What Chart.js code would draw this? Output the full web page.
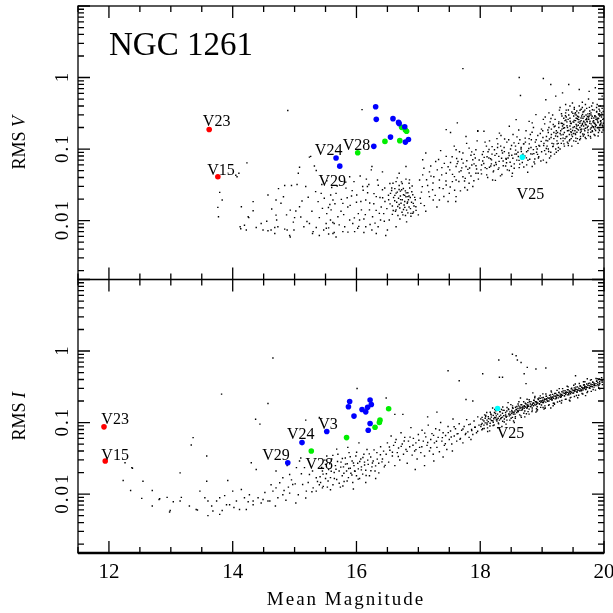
<!DOCTYPE html>
<html>
<head>
<meta charset="utf-8">
<script src="https://cdn.jsdelivr.net/npm/chart.js@4"></script>
<style>
  html, body { margin: 0; padding: 0; background: #fff; }
</style>
</head>
<body>
<canvas id="rmsChart" width="613" height="613"></canvas>
<script>
// tick labels
const xTickLabels = [12, 14, 16, 18, 20];
const yTickLabels = [0.01, 0.1, 1];

// RMS V panel: [mean magnitude, rms]
const vRed = [[13.62, 0.188], [13.76, 0.041]];
const vBlue = [[16.31, 0.39], [16.32, 0.26], [16.59, 0.266], [16.68, 0.236], [16.69, 0.227], [16.78, 0.205],
  [16.55, 0.147], [16.28, 0.109], [16.84, 0.136], [16.79, 0.125], [15.67, 0.0748], [15.73, 0.0577]];
const vGreen = [[16.02, 0.0887], [16.46, 0.128], [16.70, 0.131], [16.73, 0.201], [16.79, 0.185], [16.81, 0.177]];
const vCyan = [[18.68, 0.077]];
const vField = [
  [13.79,0.0248],[13.83,0.0194],[13.76,0.0153],[13.77,0.0113],[14.07,0.041],[14.05,0.043],[14.10,0.046],[14.23,0.064],
  [14.12,0.0082],[14.25,0.0113],[14.33,0.0184],[14.14,0.0156],[14.33,0.0137],[14.26,0.011],[14.57,0.0228],[14.70,0.0194],
  [14.84,0.031],[14.74,0.028],[14.95,0.031],[15.04,0.032],[14.63,0.0145],[14.70,0.0119],[14.93,0.014],[15.02,0.0136],
  [15.08,0.0156],[14.87,0.012],[14.71,0.0102],[14.46,0.0091],[14.38,0.008],[14.19,0.0086],[14.13,0.0077],[14.22,0.0074],
  [14.57,0.0072],[14.62,0.0074],[14.68,0.008],[14.84,0.0076],[14.88,0.0074],[14.99,0.0074],[14.93,0.0059],[15.0,0.011],
  [15.20,0.0097],[15.24,0.0091],[15.30,0.007],[15.35,0.008],[15.40,0.011],[15.47,0.0074],[15.51,0.0091],[15.55,0.0079],
  [15.58,0.0102],[15.62,0.0066],[15.64,0.0091],[15.67,0.0059],[15.38,0.0184],[15.34,0.0254],[15.43,0.024],[15.22,0.0212],
  [15.08,0.0558],[15.06,0.046],[15.24,0.077],[15.35,0.05],[15.18,0.03],[14.73,0.0082],[14.49,0.0074],[14.89,0.345],
  [14.68,0.0066],[14.92,0.0062],[15.29,0.0066],[15.26,0.079],[15.32,0.058],[14.78,0.0175],[15.12,0.0188],[15.28,0.0135],
  [15.45,0.0148],[15.52,0.0125],[15.15,0.0082],[15.40,0.0062],[15.55,0.0065],[14.55,0.0098],[14.98,0.0095],[15.10,0.0112],
  [15.48,0.0205],[15.57,0.0168],[14.82,0.0215],[15.60,0.029],[15.52,0.036],[15.44,0.032],
  [15.89,0.041],[15.83,0.0284],[15.67,0.024],[15.62,0.0194],[15.59,0.0141],[15.78,0.0174],[15.70,0.0113],[15.81,0.0082],
  [15.64,0.0068],[15.94,0.0091],[16.08,0.0141],[16.15,0.0194],[16.10,0.03],[16.24,0.0512],[16.25,0.057],[16.34,0.037],
  [16.42,0.048],[16.42,0.027],[16.32,0.0216],[16.21,0.0141],[16.26,0.0113],[16.37,0.0126],[16.15,0.0082],[16.05,0.0102],
  [15.97,0.0070],[16.32,0.0066],[16.50,0.0074],[15.78,0.007],[15.89,0.0102],[16.09,0.356],[15.75,0.0135],[15.86,0.0155],
  [15.92,0.022],[16.0,0.018],[16.03,0.0125],[16.12,0.0105],[16.18,0.0245],[16.28,0.0172],[16.40,0.0155],[16.45,0.0098],
  [16.02,0.0078],[16.22,0.0088],[16.30,0.0092],[15.96,0.035],[16.06,0.042],[16.20,0.032],[16.38,0.021],[16.46,0.0185],
  [16.12,0.0068],[15.85,0.0208],[16.35,0.0082],[16.16,0.038],[16.44,0.0125],
  [16.52,0.0195],[16.55,0.024],[16.58,0.016],[16.60,0.021],[16.62,0.028],[16.63,0.0135],[16.65,0.018],[16.66,0.025],
  [16.68,0.0205],[16.69,0.031],[16.70,0.015],[16.71,0.022],[16.72,0.0175],[16.73,0.027],[16.74,0.0195],[16.75,0.012],
  [16.76,0.023],[16.77,0.0165],[16.78,0.0185],[16.79,0.026],[16.80,0.0215],[16.81,0.014],[16.82,0.0175],[16.83,0.0245],
  [16.84,0.0195],[16.85,0.0155],[16.87,0.021],[16.88,0.0126],[16.89,0.018],[16.91,0.023],[16.93,0.016],[16.95,0.0195],
  [16.57,0.0285],[16.64,0.035],[16.74,0.033],[16.80,0.038],[16.67,0.0118],[16.76,0.0143],[16.86,0.0285],[16.71,0.0258],
  [16.78,0.0225],[16.69,0.0168],[16.62,0.0225],[16.83,0.0128],[16.92,0.0132],[16.58,0.0122],[16.54,0.033],[16.90,0.0305],
  [16.64,0.0141],[16.59,0.0333],[16.69,0.046],[16.80,0.057],[16.85,0.0333],[16.83,0.0216],[16.64,0.0082],[16.81,0.0096],
  [16.88,0.0115],[16.96,0.0156],[16.53,0.0102],[16.91,0.0126],
  [17.04,0.0174],[17.18,0.0216],[17.34,0.0194],[17.50,0.024],[17.02,0.037],[17.07,0.0435],[17.18,0.048],[17.28,0.067],
  [17.45,0.079],[17.61,0.098],[17.72,0.088],[17.82,0.103],[17.93,0.098],[17.96,0.177],[17.63,0.232],[17.45,0.187],
  [17.07,0.071],[17.12,0.088],[17.09,0.054],[17.34,0.037],[17.45,0.0315],[17.61,0.037],[17.72,0.041],[17.82,0.0333],
  [17.93,0.046],[17.61,0.057],[17.77,0.057],[17.88,0.071],[17.45,0.046],[17.23,0.027],[17.24,0.0194],[17.61,0.0216],
  [17.88,0.03],[17.72,1.33],[17.77,0.15],[17.52,0.17],[17.15,0.031],[17.25,0.041],[17.38,0.055],[17.40,0.028],
  [17.52,0.065],[17.55,0.035],[17.66,0.048],[17.70,0.072],[17.75,0.029],[17.80,0.052],[17.85,0.042],[17.90,0.062],
  [17.97,0.038],[17.12,0.0135],[17.30,0.0155],[17.48,0.0185],[17.68,0.026],[17.85,0.082],[17.58,0.11],[17.36,0.095],
  [17.20,0.058],[17.95,0.13],[17.78,0.12],[17.05,0.025],[17.42,0.063],[17.64,0.067],[17.92,0.075],[17.00,0.012],
  [18.06,0.177],[17.96,0.18],[18.47,0.208],[18.58,0.258],[18.79,0.244],[18.90,0.303],[18.20,0.037],[18.52,0.046],
  [18.84,0.057],[18.31,0.167],[18.84,0.232],[18.02,0.045],[18.04,0.068],[18.05,0.092],[18.08,0.055],[18.10,0.11],
  [18.12,0.04],[18.14,0.075],[18.15,0.13],[18.17,0.058],[18.19,0.085],[18.21,0.048],[18.23,0.098],[18.25,0.065],
  [18.27,0.14],[18.29,0.052],[18.30,0.079],[18.33,0.11],[18.35,0.044],[18.37,0.068],[18.39,0.092],[18.41,0.058],
  [18.43,0.125],[18.45,0.075],[18.47,0.05],[18.49,0.1],[18.51,0.082],[18.53,0.16],[18.55,0.062],[18.57,0.11],
  [18.59,0.07],[18.61,0.09],[18.63,0.055],[18.64,0.135],[18.66,0.1],[18.68,0.065],[18.70,0.118],[18.72,0.08],
  [18.74,0.18],[18.75,0.06],[18.77,0.095],[18.79,0.14],[18.80,0.072],[18.82,0.105],[18.84,0.085],[18.86,0.2],
  [18.87,0.066],[18.89,0.125],[18.91,0.09],[18.93,0.155],[18.94,0.075],[18.96,0.11],[18.98,0.068],[18.99,0.19],
  [18.18,0.062],[18.36,0.088],[18.56,0.085],[18.73,0.125],[18.92,0.1],[18.42,0.072],[18.62,0.12],[18.81,0.16],
  [18.28,0.105],[18.11,0.078],[18.46,0.135],[18.69,0.085],[18.88,0.062],[18.65,0.56],[18.63,1.0],[19.02,0.97],[19.14,0.80],
  [19.02,0.07],[19.03,0.12],[19.01,0.18],[19.04,0.095],[19.02,0.26],[19.06,0.085],[19.07,0.15],[19.05,0.28],
  [19.08,0.11],[19.06,0.49],[19.07,0.065],[19.10,0.10],[19.11,0.20],[19.09,0.13],[19.12,0.075],[19.10,0.17],
  [19.11,0.32],[19.14,0.09],[19.15,0.16],[19.13,0.24],[19.16,0.12],[19.14,0.08],[19.15,0.19],[19.18,0.11],
  [19.19,0.14],[19.17,0.30],[19.20,0.085],[19.18,0.22],[19.19,0.17],[19.22,0.10],[19.23,0.18],[19.21,0.26],
  [19.24,0.13],[19.22,0.55],[19.23,0.09],[19.21,0.21],[19.26,0.12],[19.27,0.20],[19.25,0.15],[19.28,0.35],
  [19.26,0.095],[19.27,0.24],[19.25,0.17],[19.30,0.14],[19.31,0.23],[19.29,0.10],[19.32,0.29],[19.30,0.18],
  [19.31,0.12],[19.29,0.38],[19.33,0.61],[19.34,0.16],[19.33,0.21],[19.35,0.27],[19.34,0.13],[19.32,0.19],
  [19.36,0.11],[19.37,0.25],[19.36,0.17],[19.38,0.32],[19.37,0.14],[19.35,0.22],[19.38,0.42],[19.40,0.15],
  [19.41,0.20],[19.39,0.28],[19.42,0.12],[19.40,0.24],[19.41,0.18],[19.39,0.35],[19.43,0.80],[19.44,0.16],
  [19.43,0.30],[19.45,0.21],[19.44,0.13],[19.42,0.26],[19.45,0.40],[19.46,0.19],[19.47,0.14],[19.46,0.23],
  [19.48,0.33],[19.47,0.17],[19.45,0.27],[19.48,0.11],[19.50,0.20],[19.51,0.29],[19.49,0.15],[19.52,0.36],
  [19.50,0.24],[19.51,0.13],[19.49,0.44],[19.53,0.18],[19.54,0.25],[19.53,0.31],[19.55,0.22],[19.54,0.16],
  [19.52,0.38],[19.55,0.27],[19.56,0.21],[19.57,0.14],[19.56,0.34],[19.58,0.26],[19.57,0.19],[19.55,0.30],
  [19.58,0.12],[19.60,0.68],[19.61,0.23],[19.59,0.28],[19.62,0.17],[19.60,0.40],[19.61,0.20],[19.59,0.32],
  [19.62,0.15],[19.63,0.25],[19.64,0.19],[19.63,0.36],[19.65,0.22],[19.64,0.29],[19.62,0.14],[19.65,0.45],
  [19.66,0.27],[19.67,0.21],[19.66,0.33],[19.68,0.16],[19.67,0.24],[19.65,0.38],[19.68,0.19],[19.70,0.22],
  [19.71,0.30],[19.69,0.18],[19.72,0.26],[19.70,0.42],[19.71,0.14],[19.69,0.35],[19.73,0.24],[19.74,0.31],
  [19.73,0.20],[19.75,0.28],[19.74,0.17],[19.72,0.37],[19.75,0.50],[19.76,0.64],[19.77,0.23],[19.76,0.29],
  [19.78,0.19],[19.77,0.34],[19.75,0.26],[19.78,0.15],[19.80,0.27],[19.81,0.21],[19.79,0.32],[19.82,0.24],
  [19.80,0.40],[19.81,0.18],[19.79,0.30],[19.83,0.25],[19.84,0.35],[19.83,0.20],[19.85,0.29],[19.84,0.16],
  [19.82,0.44],[19.85,0.23],[19.86,0.72],[19.87,0.28],[19.86,0.22],[19.88,0.33],[19.87,0.26],[19.85,0.19],
  [19.88,0.38],[19.90,0.24],[19.91,0.31],[19.89,0.20],[19.92,0.36],[19.90,0.27],[19.91,0.17],[19.89,0.42],
  [19.93,0.29],[19.94,0.22],[19.93,0.34],[19.95,0.25],[19.94,0.40],[19.92,0.19],[19.97,0.55],[19.98,0.26],
  [19.96,0.32],[19.99,0.23],[19.97,0.37],[19.98,0.21],[19.96,0.28]
];
// more V field stars read from the denser parts of the cloud
const vFieldDense = [
  [15.513,0.0078],[15.547,0.0152],[15.583,0.0228],[15.618,0.0094],[15.652,0.0172],[15.689,0.0305],[15.721,0.0087],[15.756,0.0198],
  [15.793,0.0121],[15.827,0.0345],[15.862,0.0069],[15.898,0.0163],[15.931,0.0262],[15.966,0.0109],[16.004,0.0228],[16.037,0.0083],
  [16.071,0.0185],[16.108,0.0265],[16.143,0.0121],[16.177,0.0299],[16.214,0.0176],[16.249,0.0074],[16.283,0.0238],[16.318,0.0139],
  [16.352,0.0312],[16.389,0.0102],[16.423,0.0208],[16.457,0.0286],[16.491,0.0147],[16.473,0.0062],
  [16.517,0.0226],[16.543,0.0171],[16.568,0.0263],[16.594,0.0138],[16.618,0.0189],[16.641,0.0242],[16.667,0.0157],[16.689,0.0272],
  [16.713,0.0196],[16.736,0.0131],[16.758,0.0281],[16.781,0.0153],[16.803,0.0244],[16.826,0.0182],[16.849,0.0221],[16.872,0.0147],
  [16.894,0.0253],[16.918,0.0174],[16.941,0.0211],[16.963,0.0139],[16.727,0.0348],[16.659,0.0395],[16.792,0.0118],[16.702,0.0105],
  [16.857,0.0371],
  [17.031,0.0205],[17.064,0.0298],[17.097,0.0162],[17.133,0.0372],[17.168,0.0252],[17.204,0.0418],[17.237,0.0336],[17.272,0.0225],
  [17.306,0.0512],[17.341,0.0288],[17.377,0.0436],[17.412,0.0217],[17.446,0.0358],[17.481,0.0565],[17.515,0.0295],[17.552,0.0442],
  [17.586,0.0265],[17.619,0.0738],[17.655,0.0351],[17.689,0.0496],[17.724,0.0635],[17.758,0.0389],[17.793,0.0268],[17.828,0.0542],
  [17.862,0.0912],[17.897,0.0361],[17.931,0.0584],[17.966,0.0458],[17.327,0.0715],[17.604,0.0185],
  [17.508,0.0512],[17.546,0.0782],[17.583,0.0412],[17.627,0.0625],[17.665,0.0915],[17.702,0.0545],[17.746,0.0358],[17.783,0.0685],
  [17.821,0.0462],[17.864,0.0598],[17.902,0.0842],[17.941,0.0525],[17.983,0.0702],
  [18.013,0.0512],[18.034,0.0838],[18.057,0.0627],[18.078,0.125],[18.104,0.0436],[18.126,0.0915],[18.149,0.0558],[18.168,0.0732],
  [18.192,0.108],[18.216,0.0495],[18.238,0.0815],[18.259,0.0608],[18.283,0.118],[18.305,0.0672],[18.327,0.0422],[18.349,0.0955],
  [18.372,0.0583],[18.394,0.138],[18.416,0.0738],[18.438,0.0512],[18.461,0.0882],[18.483,0.0655],[18.506,0.112],[18.527,0.0742],
  [18.549,0.0538],[18.572,0.0965],[18.594,0.148],[18.616,0.0788],[18.638,0.0615],[18.661,0.105],[18.683,0.0832],[18.704,0.0562],
  [18.727,0.142],[18.749,0.0915],[18.771,0.0698],[18.793,0.118],[18.816,0.0855],[18.838,0.172],[18.859,0.0982],[18.882,0.0725],
  [18.904,0.135],[18.926,0.0842],[18.948,0.112],[18.971,0.165],[18.992,0.0918],[18.245,0.0365],[18.512,0.0415],[18.767,0.0475],
  [18.335,0.155],[18.622,0.185],
  [18.022,0.0598],[18.064,0.0765],[18.107,0.0532],[18.142,0.0985],[18.183,0.0705],[18.226,0.0588],[18.264,0.0862],[18.302,0.0545],
  [18.345,0.0742],[18.386,0.105],[18.425,0.0645],[18.467,0.0812],[18.503,0.0575],[18.546,0.122],[18.585,0.0852],[18.627,0.0695],
  [18.664,0.0925],[18.705,0.118],[18.746,0.0752],[18.785,0.102],[18.826,0.135],[18.866,0.0862],[18.905,0.108],[18.946,0.0782],
  [18.985,0.128],
  [19.013,0.145],[19.041,0.225],[19.068,0.102],[19.093,0.185],[19.118,0.138],[19.143,0.268],[19.171,0.108],[19.196,0.205],
  [19.218,0.152],[19.243,0.118],[19.268,0.228],[19.291,0.165],[19.313,0.312],[19.338,0.142],[19.362,0.198],[19.384,0.255],
  [19.408,0.125],[19.431,0.182],[19.453,0.245],[19.476,0.158],[19.497,0.315],[19.522,0.205],[19.544,0.142],[19.567,0.268],
  [19.588,0.185],[19.612,0.348],[19.634,0.212],[19.657,0.162],[19.679,0.285],[19.702,0.195],[19.724,0.245],[19.747,0.155],
  [19.769,0.312],[19.792,0.225],[19.814,0.175],[19.836,0.272],[19.859,0.205],[19.882,0.335],[19.904,0.235],[19.927,0.182],
  [19.949,0.298],[19.972,0.215],[19.993,0.265],
  [19.025,0.112],[19.064,0.132],[19.106,0.0925],[19.145,0.145],[19.185,0.118],[19.226,0.165],[19.264,0.105],[19.305,0.158],
  [19.344,0.195],[19.386,0.148],[19.424,0.112],[19.465,0.175],[19.505,0.165],[19.546,0.128],[19.584,0.215],[19.625,0.188],
  [19.665,0.152],[19.706,0.258],[19.744,0.185],[19.785,0.142],[19.826,0.205],[19.864,0.182],[19.905,0.152],[19.946,0.225],
  [19.985,0.185],
  [19.328,0.228],[19.352,0.118],[19.377,0.292],[19.402,0.212],[19.424,0.352],[19.447,0.135],[19.471,0.228],[19.493,0.182],
  [19.518,0.252],[19.539,0.322],[19.562,0.172],[19.585,0.238],[19.607,0.135],[19.629,0.272],[19.652,0.228],[19.674,0.335],
  [19.697,0.145],[19.719,0.268],[19.742,0.208],[19.764,0.382],[19.787,0.172],[19.809,0.288],[19.832,0.232],[19.854,0.155],
  [19.877,0.262],[19.899,0.198],[19.922,0.312],[19.944,0.245],[19.967,0.172],[19.988,0.335],
  [19.513,0.238],[19.553,0.195],[19.593,0.258],[19.633,0.178],[19.673,0.245],[19.713,0.218],[19.753,0.262],[19.793,0.198],
  [19.833,0.248],[19.873,0.215],[19.913,0.268],[19.953,0.232],[19.533,0.165],[19.573,0.288],[19.613,0.242],[19.653,0.305],
  [19.693,0.232],[19.733,0.285],[19.773,0.245],[19.813,0.355],[19.853,0.292],[19.893,0.255],[19.933,0.215],[19.973,0.305]
];

// RMS I panel
const iRed = [[11.92, 0.087], [11.94, 0.029]];
const iBlue = [[14.89, 0.0274], [15.12, 0.0524], [15.52, 0.0748], [15.89, 0.197], [15.87, 0.166], [15.96, 0.123],
  [16.09, 0.152], [16.15, 0.141], [16.18, 0.163], [16.22, 0.206], [16.24, 0.179], [16.22, 0.097], [16.19, 0.078]];
const iGreen = [[15.27, 0.040], [15.84, 0.0616], [16.30, 0.086], [16.37, 0.10], [16.38, 0.108], [16.52, 0.156]];
const iCyan = [[18.28, 0.157]];
const iField = [
  [12.26,0.0274],[12.37,0.0234],[12.23,0.0155],[12.35,0.0112],[12.55,0.0151],[12.53,0.0087],[12.70,0.0112],[12.70,0.0068],
  [12.81,0.0084],[12.94,0.009],[12.98,0.0056],[13.04,0.0078],[13.17,0.009],[13.15,0.0198],[13.33,0.0486],[13.36,0.0616],
  [13.58,0.034],[13.58,0.0151],[13.47,0.011],[13.55,0.0089],[13.60,0.008],[13.41,0.0061],[13.66,0.0068],[13.68,0.0058],
  [13.74,0.008],[13.79,0.0089],[13.92,0.0155],[13.90,0.0071],[14.0,0.011],[14.06,0.008],[14.14,0.0116],[14.19,0.0089],
  [14.27,0.0098],[14.30,0.0274],[14.38,0.022],[14.37,0.111],[14.44,0.095],[14.57,0.185],[13.82,0.25],[14.33,0.008],
  [14.41,0.0089],[14.49,0.0084],[14.57,0.008],[14.65,0.011],[14.70,0.0122],[14.76,0.0144],[14.81,0.0169],[14.70,0.021],
  [14.92,0.0188],[14.97,0.0136],[15.03,0.0234],[15.08,0.029],[15.16,0.0234],[15.24,0.0188],[15.35,0.0169],[15.45,0.021],
  [15.30,0.0122],[15.45,0.0122],[14.73,0.0089],[14.81,0.0098],[14.92,0.0103],[15.13,0.0136],[15.19,0.011],[15.35,0.011],
  [14.65,0.80],[15.18,0.108],[15.40,0.118],[13.15,0.008],[13.30,0.0068],[13.43,0.006],[13.60,0.005],[13.79,0.0052],
  [13.83,0.0059],[13.95,0.0071],[14.11,0.0061],[14.22,0.0061],[14.33,0.0071],[14.46,0.0075],[14.60,0.008],[14.69,0.0068],
  [14.83,0.0112],[14.90,0.0125],[15.01,0.0139],[15.11,0.0192],[15.29,0.021],[15.37,0.015],[15.28,0.0108],[12.99,0.0059],
  [12.82,0.0086],[12.38,0.023],[13.87,0.0095],[14.02,0.0065],[14.25,0.0078],[14.52,0.0105],[14.62,0.0135],[14.86,0.0082],
  [14.95,0.0158],[15.06,0.0098],[15.22,0.0145],[15.40,0.0135],[15.50,0.0165],[15.02,0.0075],[15.18,0.0088],[14.88,0.025],
  [15.10,0.032],
  [15.42,0.0145],[15.46,0.019],[15.50,0.026],[15.53,0.0125],[15.55,0.022],[15.58,0.017],[15.60,0.031],[15.62,0.0135],
  [15.64,0.02],[15.66,0.025],[15.68,0.016],[15.70,0.036],[15.72,0.021],[15.74,0.0125],[15.75,0.028],[15.77,0.018],
  [15.79,0.024],[15.80,0.015],[15.82,0.032],[15.84,0.021],[15.85,0.0265],[15.87,0.017],[15.88,0.038],[15.90,0.023],
  [15.91,0.0195],[15.93,0.029],[15.94,0.0145],[15.96,0.025],[15.97,0.021],[15.99,0.034],[16.00,0.018],[16.02,0.027],
  [16.03,0.0225],[16.05,0.0165],[16.07,0.031],[16.08,0.024],[16.10,0.019],[16.12,0.036],[16.13,0.028],[16.15,0.0215],
  [16.17,0.042],[16.19,0.026],[16.21,0.018],[16.23,0.033],[16.25,0.024],[16.27,0.029],[16.30,0.021],[16.33,0.038],
  [16.36,0.027],[16.39,0.046],[16.42,0.031],[16.45,0.024],[16.48,0.036],[15.58,0.0115],[15.78,0.013],[15.95,0.0118],
  [16.15,0.0145],[15.68,0.0425],[15.86,0.045],[16.04,0.052],[15.52,0.034],[16.31,0.0165],
  [16.50,0.052],[16.52,0.028],[16.54,0.041],[16.56,0.065],[16.58,0.034],[16.60,0.048],[16.62,0.025],[16.64,0.058],
  [16.66,0.038],[16.68,0.044],[16.70,0.03],[16.72,0.072],[16.74,0.05],[16.76,0.036],[16.78,0.062],[16.80,0.042],
  [16.82,0.027],[16.84,0.055],[16.86,0.046],[16.88,0.085],[16.90,0.035],[16.92,0.06],[16.94,0.04],[16.96,0.052],
  [16.98,0.031],[17.00,0.068],[17.02,0.045],[17.04,0.038],[17.06,0.078],[17.08,0.055],[17.10,0.034],[17.12,0.063],
  [17.14,0.048],[17.16,0.092],[17.18,0.04],[17.20,0.058],[17.22,0.07],[17.24,0.036],[17.26,0.052],[17.28,0.082],
  [17.30,0.045],[17.32,0.062],[17.34,0.039],[17.36,0.1],[17.38,0.055],[17.40,0.072],[17.42,0.048],[17.44,0.066],
  [17.46,0.042],[17.48,0.088],[17.50,0.058],[17.52,0.076],[17.54,0.05],[17.56,0.112],[17.58,0.065],[17.60,0.082],
  [17.62,0.055],[17.64,0.07],[17.66,0.096],[17.68,0.06],[17.70,0.078],[17.72,0.052],[17.74,0.088],[17.76,0.068],
  [17.78,0.11],[17.80,0.074],[17.82,0.062],[17.84,0.095],[17.86,0.08],[17.88,0.068],[17.90,0.105],[17.92,0.086],
  [17.94,0.072],[17.96,0.12],[17.98,0.092],[16.62,0.13],[16.75,0.13],[16.48,0.22],[16.01,0.30],[17.77,0.21],
  [17.88,0.20],[17.48,0.53],[17.66,0.385],[17.15,0.12],[17.30,0.14],[16.95,0.022],[17.25,0.029],[17.55,0.04],
  [17.85,0.058],[17.10,0.025],[17.40,0.033],
  [18.01,0.088],[18.01,0.112],[18.03,0.097],[18.03,0.118],[18.04,0.082],[18.06,0.105],[18.06,0.092],[18.08,0.115],
  [18.08,0.099],[18.09,0.126],[18.11,0.094],[18.11,0.108],[18.13,0.121],[18.13,0.103],[18.16,0.112],[18.16,0.098],
  [18.17,0.132],[18.18,0.107],[18.18,0.119],[18.21,0.126],[18.21,0.101],[18.22,0.113],[18.23,0.118],[18.23,0.138],
  [18.26,0.109],[18.26,0.124],[18.27,0.105],[18.28,0.131],[18.29,0.115],[18.31,0.122],[18.31,0.108],[18.32,0.141],
  [18.33,0.127],[18.33,0.113],[18.36,0.135],[18.36,0.119],[18.37,0.148],[18.38,0.125],[18.39,0.112],[18.41,0.138],
  [18.41,0.128],[18.42,0.118],[18.43,0.145],[18.43,0.122],[18.46,0.132],[18.46,0.152],[18.47,0.124],[18.48,0.141],
  [18.49,0.128],[18.51,0.148],[18.51,0.135],[18.52,0.118],[18.53,0.139],[18.53,0.158],[18.56,0.145],[18.56,0.131],
  [18.57,0.164],[18.58,0.152],[18.59,0.138],[18.61,0.158],[18.61,0.142],[18.62,0.171],[18.63,0.149],[18.64,0.165],
  [18.66,0.162],[18.66,0.148],[18.67,0.178],[18.68,0.155],[18.69,0.168],[18.71,0.172],[18.71,0.158],[18.72,0.145],
  [18.73,0.165],[18.74,0.182],[18.76,0.176],[18.76,0.161],[18.77,0.19],[18.78,0.169],[18.79,0.154],[18.81,0.182],
  [18.81,0.168],[18.82,0.196],[18.83,0.175],[18.84,0.16],[18.86,0.188],[18.86,0.172],[18.87,0.205],[18.88,0.181],
  [18.89,0.195],[18.91,0.194],[18.91,0.178],[18.92,0.166],[18.93,0.188],[18.94,0.21],[18.96,0.199],[18.96,0.182],
  [18.97,0.218],[18.98,0.192],[18.99,0.176],[19.01,0.205],[19.01,0.19],[19.02,0.224],[19.03,0.198],[19.04,0.214],
  [19.06,0.211],[19.06,0.193],[19.07,0.232],[19.08,0.205],[19.09,0.221],[19.11,0.218],[19.11,0.2],[19.12,0.24],
  [19.13,0.212],[19.14,0.228],[19.16,0.225],[19.16,0.207],[19.17,0.248],[19.18,0.219],[19.19,0.236],[19.21,0.232],
  [19.21,0.214],[19.22,0.256],[19.23,0.226],[19.24,0.245],[19.26,0.24],[19.26,0.221],[19.27,0.262],[19.28,0.234],
  [19.29,0.252],[19.31,0.248],[19.31,0.229],[19.32,0.27],[19.33,0.241],[19.34,0.26],[19.36,0.256],[19.36,0.236],
  [19.37,0.279],[19.38,0.249],[19.39,0.268],[19.41,0.264],[19.41,0.244],[19.42,0.288],[19.43,0.257],[19.44,0.276],
  [19.46,0.272],[19.46,0.252],[19.47,0.296],[19.48,0.265],[19.49,0.285],[19.51,0.281],[19.51,0.26],[19.52,0.305],
  [19.53,0.274],[19.54,0.294],[19.56,0.289],[19.56,0.268],[19.57,0.315],[19.58,0.282],[19.59,0.303],[19.61,0.298],
  [19.61,0.276],[19.62,0.325],[19.63,0.291],[19.64,0.312],[19.66,0.307],[19.66,0.285],[19.67,0.335],[19.68,0.3],
  [19.69,0.322],[19.71,0.317],[19.71,0.294],[19.72,0.345],[19.73,0.31],[19.74,0.333],[19.76,0.328],[19.76,0.305],
  [19.77,0.356],[19.78,0.32],[19.79,0.344],[19.81,0.339],[19.81,0.316],[19.82,0.365],[19.84,0.332],[19.84,0.355],
  [19.87,0.35],[19.87,0.328],[19.88,0.378],[19.90,0.362],[19.90,0.34],[19.93,0.372],[19.93,0.352],[19.97,0.385],
  [19.97,0.365],[18.12,0.075],[18.35,0.088],[18.55,0.1],[18.72,0.12],[18.90,0.14],[19.05,0.16],[19.20,0.18],
  [19.45,0.2],[18.20,0.16],[18.45,0.19],[18.65,0.22],[18.85,0.26],[19.14,0.16],[18.95,0.22],[18.30,0.75],
  [18.52,0.90],[18.58,0.86],[18.60,0.75],[18.66,0.69],[18.31,0.43],[18.90,0.56],[19.06,0.58],[18.74,0.35],
  [19.54,0.45],[19.73,0.41],[19.92,0.41],[18.25,0.117],[18.04,0.48],[18.36,0.43],[18.71,0.48],[18.76,0.59],
  [19.03,0.154],[19.89,0.41]
];
// more I field stars read from the clump and the tight faint sequence
const iFieldDense = [
  [15.412,0.0175],[15.438,0.0235],[15.463,0.0128],[15.489,0.0298],[15.514,0.0192],[15.541,0.0152],[15.567,0.0265],[15.592,0.0208],
  [15.618,0.0348],[15.643,0.0165],[15.669,0.0222],[15.694,0.0285],[15.721,0.0142],[15.746,0.0238],[15.772,0.0315],[15.797,0.0195],
  [15.823,0.0262],[15.849,0.0152],[15.874,0.0228],[15.899,0.0332],[15.926,0.0185],[15.951,0.0272],[15.977,0.0208],[16.002,0.0385],
  [16.028,0.0162],[16.053,0.0285],[16.079,0.0218],[16.104,0.0325],[16.131,0.0255],[16.156,0.0182],[16.182,0.0298],[16.207,0.0365],
  [16.233,0.0212],[16.258,0.0272],[16.284,0.0415],[16.309,0.0248],[16.336,0.0308],[16.361,0.0198],[16.387,0.0355],[16.412,0.0282],
  [16.438,0.0398],[16.463,0.0252],
  [16.532,0.0455],[16.581,0.0385],[16.627,0.0528],[16.676,0.0335],[16.723,0.0465],[16.771,0.0552],[16.818,0.0395],[16.866,0.0625],
  [16.913,0.0482],[16.961,0.0418],[17.008,0.0565],[17.056,0.0458],[17.103,0.0712],[17.151,0.0525],[17.198,0.0445],[17.246,0.0662],
  [17.293,0.0548],[17.341,0.0785],[17.388,0.0615],[17.436,0.0505],[17.483,0.0722],[17.531,0.0628],[17.578,0.0875],[17.626,0.0695],
  [17.673,0.0582],[17.721,0.0812],[17.768,0.0705],[17.816,0.0935],[17.863,0.0772],[17.911,0.0858],[17.958,0.0755],
  [18.017,0.0935],[18.041,0.109],[18.063,0.0825],[18.088,0.121],[18.109,0.0985],[18.134,0.114],[18.157,0.0895],[18.179,0.128],
  [18.203,0.106],[18.224,0.0925],[18.247,0.134],[18.272,0.111],[18.293,0.0985],[18.318,0.142],[18.341,0.117],[18.362,0.104],
  [18.386,0.148],[18.409,0.123],[18.431,0.108],[18.455,0.155],[18.478,0.131],[18.499,0.115],[18.523,0.161],[18.546,0.138],
  [18.568,0.121],[18.592,0.168],[18.614,0.143],[18.637,0.128],[18.659,0.177],[18.682,0.151],[18.705,0.135],[18.728,0.186],
  [18.751,0.159],[18.773,0.142],[18.796,0.195],[18.818,0.167],[18.841,0.149],[18.864,0.204],[18.887,0.175],[18.909,0.156],
  [18.932,0.214],[18.955,0.183],[18.977,0.163],[18.998,0.222],
  [19.022,0.191],[19.045,0.171],[19.067,0.233],[19.091,0.199],[19.113,0.178],[19.136,0.244],[19.159,0.208],[19.181,0.186],
  [19.204,0.255],[19.227,0.217],[19.249,0.194],[19.272,0.266],[19.295,0.226],[19.318,0.203],[19.341,0.277],[19.363,0.236],
  [19.386,0.212],[19.409,0.289],[19.431,0.245],[19.454,0.221],[19.477,0.301],[19.499,0.256],[19.522,0.231],[19.545,0.313],
  [19.567,0.267],[19.591,0.241],[19.613,0.325],[19.636,0.278],[19.658,0.251],[19.681,0.338],[19.704,0.289],[19.726,0.262],
  [19.749,0.352],[19.772,0.301],[19.794,0.273],[19.817,0.366],[19.839,0.313],[19.862,0.284],[19.885,0.381],[19.907,0.326],
  [19.93,0.296],[19.953,0.392],[19.975,0.339],
  [18.152,0.0765],[18.283,0.0845],[18.417,0.095],[18.538,0.105],[18.664,0.118],[18.789,0.131],[18.915,0.145],[19.046,0.158],
  [19.178,0.172],[19.312,0.188],[19.441,0.205],[19.575,0.222],[19.702,0.238],[18.105,0.138],[18.236,0.152],[18.364,0.165],
  [18.495,0.178],[18.625,0.195],[18.757,0.212],[18.884,0.231],[19.012,0.252],[19.146,0.276],[19.277,0.298],[19.405,0.322],
  [19.536,0.346],[19.668,0.371],[19.796,0.398],
  [18.027,0.0795],[18.071,0.128],[18.118,0.0842],[18.162,0.139],[18.208,0.0905],[18.253,0.146],[18.297,0.0958],[18.344,0.152],
  [18.388,0.102],[18.433,0.162],[18.478,0.108],[18.522,0.171],[18.567,0.115],[18.612,0.182],[18.657,0.124],[18.702,0.195],
  [18.746,0.133],[18.791,0.208],[18.836,0.142],[18.881,0.222],[18.925,0.151],[18.971,0.236],[19.015,0.162],[19.061,0.251],
  [19.105,0.174],[19.151,0.266],[19.195,0.186],[19.241,0.282],[19.285,0.198],[19.331,0.298],[19.375,0.211],[19.421,0.315],
  [19.465,0.225],[19.511,0.333],[19.555,0.239],[19.601,0.352],[19.645,0.255],[19.691,0.371],[19.735,0.272],[19.781,0.392],
  [19.825,0.29],[19.871,0.412],[19.915,0.308],[19.961,0.425],
  [18.514,0.142],[18.587,0.152],[18.643,0.158],[18.718,0.168],[18.774,0.175],[18.852,0.186],[18.908,0.193],[18.983,0.202],
  [19.038,0.208],[19.115,0.221],[19.173,0.228],[19.252,0.238],[19.308,0.245],[19.387,0.258],[19.443,0.266],[19.522,0.278],
  [19.578,0.286],[19.657,0.298],[19.713,0.308],[19.792,0.322],[19.848,0.332],[19.927,0.348],
  [18.536,0.131],[18.608,0.146],[18.689,0.161],[18.762,0.169],[18.843,0.179],[18.917,0.186],[18.996,0.196],[19.071,0.215],
  [19.149,0.219],[19.224,0.236],[19.304,0.237],[19.378,0.262],[19.458,0.257],[19.533,0.287],[19.612,0.281],[19.688,0.312],
  [19.766,0.305],[19.842,0.341],[19.921,0.334]
];

// variable star labels: [text, magnitude, rms]
const vNames = [['V23', 13.74, 0.249], ['V15', 13.81, 0.051], ['V24', 15.55, 0.098], ['V28', 16.0, 0.115],
  ['V29', 15.61, 0.0359], ['V25', 18.81, 0.0236]];
const iNames = [['V23', 12.10, 0.114], ['V15', 12.10, 0.0357], ['V29', 14.70, 0.0363], ['V24', 15.10, 0.0706],
  ['V28', 15.40, 0.0267], ['V3', 15.54, 0.0975], ['V25', 18.49, 0.0716]];

const toXY = (arr) => arr.map(([x, y]) => ({ x: x, y: y }));

function dots(data, axis) {
  return {
    data: toXY(data), yAxisID: axis, order: 2,
    pointStyle: 'rect', pointRadius: 1.0, pointBorderWidth: 0,
    backgroundColor: '#000', borderColor: '#000'
  };
}
function stars(data, axis, color) {
  return {
    data: toXY(data), yAxisID: axis, order: 1,
    pointStyle: 'circle', pointRadius: 2.8, pointBorderWidth: 0,
    backgroundColor: color, borderColor: color
  };
}

const serif = '"Liberation Serif", "DejaVu Serif", serif';

const framePlugin = {
  id: 'frame',
  afterDraw: (chart) => {
    const c = chart.ctx;
    const x = chart.scales.x;
    c.save();
    c.strokeStyle = '#000';
    c.fillStyle = '#000';

    [['yV', vNames, 'V'], ['yI', iNames, 'I']].forEach(([id, names, band]) => {
      const y = chart.scales[id];
      c.lineWidth = 1.3;
      c.strokeRect(x.left, y.top, x.right - x.left, y.bottom - y.top);
      c.beginPath();
      for (let v = 11.5; v <= 20.001; v += 0.5) {
        const px = x.getPixelForValue(v);
        const len = v % 2 === 0 ? 12 : 6;
        c.moveTo(px, y.top); c.lineTo(px, y.top + len);
        c.moveTo(px, y.bottom); c.lineTo(px, y.bottom - len);
      }
      for (let d = -3; d <= 1; d++) {
        for (let k = 1; k <= 9; k++) {
          const val = k * Math.pow(10, d);
          if (val < y.min || val > y.max) continue;
          const py = y.getPixelForValue(val);
          const len = k === 1 ? 12 : 6;
          c.moveTo(x.left, py); c.lineTo(x.left + len, py);
          c.moveTo(x.right, py); c.lineTo(x.right - len, py);
        }
      }
      c.stroke();

      // y tick labels, rotated
      c.font = '19px ' + serif;
      c.textAlign = 'center';
      c.textBaseline = 'alphabetic';
      yTickLabels.forEach((t) => {
        const py = y.getPixelForValue(t);
        c.save();
        c.translate(x.left - 10, py);
        c.rotate(-Math.PI / 2);
        c.letterSpacing = '2px';
        c.fillText(String(t), 1, 0);
        c.restore();
      });

      // axis title
      c.save();
      c.translate(x.left - 53, (y.top + y.bottom) / 2);
      c.rotate(-Math.PI / 2);
      c.textAlign = 'left';
      c.font = '18px ' + serif;
      const w1 = c.measureText('RMS ').width;
      c.font = 'italic 18px ' + serif;
      const w2 = c.measureText(band).width;
      c.font = '18px ' + serif;
      c.fillText('RMS ', -(w1 + w2) / 2, 0);
      c.font = 'italic 18px ' + serif;
      c.fillText(band, -(w1 + w2) / 2 + w1, 0);
      c.restore();

      // variable labels
      c.font = '16px ' + serif;
      c.textAlign = 'center';
      names.forEach(([t, m, r]) => {
        c.fillText(t, x.getPixelForValue(m), y.getPixelForValue(r) + 5.5);
      });
    });

    const yI = chart.scales.yI;
    c.lineWidth = 2.5;
    c.beginPath();
    c.moveTo(x.left, yI.bottom); c.lineTo(x.right, yI.bottom);
    c.stroke();

    // x tick labels
    c.font = '21px ' + serif;
    c.textAlign = 'center';
    xTickLabels.forEach((t) => {
      c.fillText(String(t), x.getPixelForValue(t), yI.bottom + 25);
    });
    c.font = '19px ' + serif;
    c.letterSpacing = '2px';
    c.fillText('Mean Magnitude', (x.left + x.right) / 2 + 5, yI.bottom + 52);

    const yV = chart.scales.yV;
    c.font = '33px ' + serif;
    c.letterSpacing = '0px';
    c.textAlign = 'left';
    c.fillText('NGC 1261', x.left + 31, yV.top + 49);
    c.restore();
  }
};

const ctx = document.getElementById('rmsChart').getContext('2d');
new Chart(ctx, {
  type: 'scatter',
  data: {
    datasets: [
      stars(vRed, 'yV', '#ff0000'), stars(vBlue, 'yV', '#0000ff'), stars(vGreen, 'yV', '#00ee00'), stars(vCyan, 'yV', '#00ffff'),
      stars(iRed, 'yI', '#ff0000'), stars(iBlue, 'yI', '#0000ff'), stars(iGreen, 'yI', '#00ee00'), stars(iCyan, 'yI', '#00ffff'),
      dots(vField, 'yV'), dots(vFieldDense, 'yV'), dots(iField, 'yI'), dots(iFieldDense, 'yI')
    ]
  },
  options: {
    responsive: false,
    animation: false,
    layout: { padding: { left: 78, right: 9, top: 6, bottom: 60 } },
    plugins: { legend: { display: false }, tooltip: { enabled: false } },
    scales: {
      x: { type: 'linear', min: 11.5, max: 20, display: false },
      yV: { type: 'logarithmic', min: 0.0015, max: 10, position: 'left', stack: 'panels', stackWeight: 1, weight: 2, display: false },
      yI: { type: 'logarithmic', min: 0.0015, max: 10, position: 'left', stack: 'panels', stackWeight: 1, weight: 1, display: false }
    }
  },
  plugins: [framePlugin]
});
</script>
</body>
</html>
